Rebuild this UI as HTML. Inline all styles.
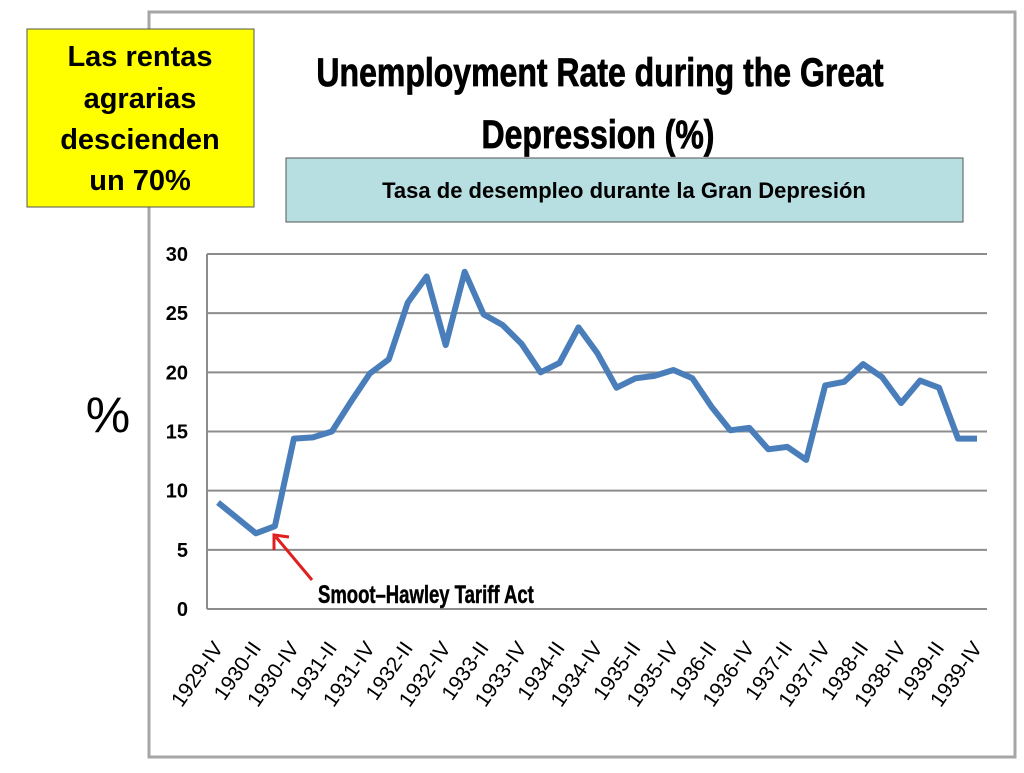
<!DOCTYPE html>
<html><head><meta charset="utf-8"><style>
body{margin:0;background:#fff;width:1024px;height:768px;overflow:hidden;font-family:"Liberation Sans",sans-serif}
</style></head><body>
<svg width="1024" height="768" viewBox="0 0 1024 768">
<rect x="149" y="12" width="866" height="745" fill="#fff" stroke="#a6a6a6" stroke-width="3"/>
<g font-weight="bold" fill="#000" text-anchor="middle">
<text x="600" y="86" font-size="40" stroke="#000" stroke-width="0.8" transform="translate(600 0) scale(0.8 1) translate(-600 0)">Unemployment Rate during the Great</text>
<text x="598" y="148" font-size="40" stroke="#000" stroke-width="0.8" transform="translate(598 0) scale(0.8 1) translate(-598 0)">Depression (%)</text>
</g>
<g>
<rect x="27" y="29" width="227" height="178" fill="#ffff00" stroke="#555" stroke-width="1"/>
<text font-size="29" font-weight="bold" text-anchor="middle" fill="#000">
<tspan x="140" y="66">Las rentas</tspan><tspan x="140" y="108">agrarias</tspan><tspan x="140" y="149">descienden</tspan><tspan x="140" y="190">un 70%</tspan></text>
</g>
<g>
<rect x="286" y="158" width="677" height="64" fill="#b7dee0" stroke="#555" stroke-width="1"/>
<text x="624" y="198" font-size="22" font-weight="bold" text-anchor="middle" fill="#000">Tasa de desempleo durante la Gran Depresión</text>
</g>
<text x="108" y="432" font-size="50" text-anchor="middle" fill="#000">%</text>
<g id="grid"></g><g id="yt"></g><g id="xt"></g>
<path id="line" fill="none" stroke="#4a7ebb" stroke-width="6" stroke-linejoin="round"/>
<g>
<line x1="312" y1="580" x2="276" y2="537" stroke="#e02020" stroke-width="3"/>
<polyline points="274,550 274,535 289,537" fill="none" stroke="#e02020" stroke-width="3"/>
<text x="318" y="603" font-size="25" font-weight="bold" fill="#000" stroke="#000" stroke-width="0.5" transform="translate(318 0) scale(0.74 1) translate(-318 0)">Smoot–Hawley Tariff Act</text>
</g>
</svg>
<script>
const values=[9.0,7.7,6.4,7.0,14.4,14.5,15.0,17.5,19.9,21.1,25.9,28.1,22.3,28.5,24.9,24.0,22.4,20.0,20.8,23.8,21.6,18.7,19.5,19.7,20.2,19.5,17.1,15.1,15.3,13.5,13.7,12.6,18.9,19.2,20.7,19.6,17.4,19.3,18.7,14.4,14.4];
const xLabels=["1929-IV","1930-II","1930-IV","1931-II","1931-IV","1932-II","1932-IV","1933-II","1933-IV","1934-II","1934-IV","1935-II","1935-IV","1936-II","1936-IV","1937-II","1937-IV","1938-II","1938-IV","1939-II","1939-IV"];
const yTicks=[0,5,10,15,20,25,30];
const NS="http://www.w3.org/2000/svg";
const x=i=>218+i*(977-218)/(values.length-1);
const y=v=>609-v*(609-254)/30;
const grid=document.getElementById('grid'),yt=document.getElementById('yt'),xt=document.getElementById('xt');
yTicks.forEach(t=>{
 const l=document.createElementNS(NS,'line');
 l.setAttribute('x1',207);l.setAttribute('x2',987);l.setAttribute('y1',y(t));l.setAttribute('y2',y(t));
 l.setAttribute('stroke','#8c8c8c');l.setAttribute('stroke-width','2');
 
 
 grid.appendChild(l);
 const tx=document.createElementNS(NS,'text');
 tx.setAttribute('x',188);tx.setAttribute('y',y(t)+7);tx.setAttribute('text-anchor','end');
 tx.setAttribute('font-size','20');tx.setAttribute('font-weight','bold');
 tx.textContent=t;
 
 
 yt.appendChild(tx);
});
const ax=document.createElementNS(NS,'line');
ax.setAttribute('x1',207);ax.setAttribute('x2',207);ax.setAttribute('y1',254);ax.setAttribute('y2',609);
ax.setAttribute('stroke','#8c8c8c');ax.setAttribute('stroke-width','2');


grid.appendChild(ax);
xLabels.forEach((s,k)=>{
 const px=x(k*2)+6,py=648;
 const tx=document.createElementNS(NS,'text');
 tx.setAttribute('x',px);tx.setAttribute('y',py);tx.setAttribute('text-anchor','end');
 tx.setAttribute('font-size','21');
 tx.setAttribute('transform','rotate(-55 '+px+' '+py+')');
 tx.textContent=s;
 
 
 xt.appendChild(tx);
});
document.getElementById('line').setAttribute('d',values.map((v,i)=>(i?'L':'M')+x(i).toFixed(1)+' '+y(v).toFixed(1)).join(' '));
</script>
</body></html>
